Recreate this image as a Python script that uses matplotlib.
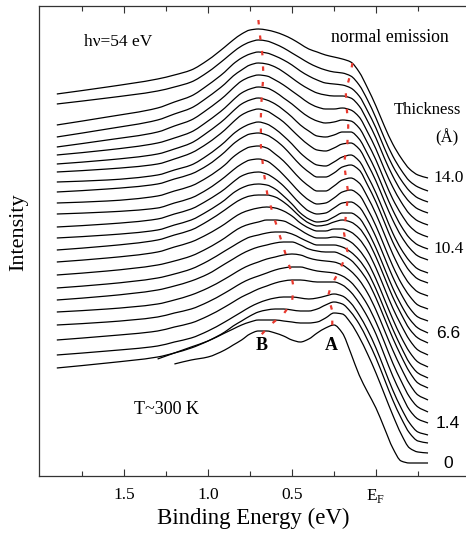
import matplotlib
matplotlib.use("Agg")
import matplotlib.pyplot as plt
import numpy as np
from matplotlib.path import Path
from matplotlib.patches import PathPatch

plt.rcParams['font.family'] = ['Liberation Serif', 'DejaVu Serif']
plt.rcParams['mathtext.fontset'] = 'custom'
plt.rcParams['mathtext.rm'] = 'Liberation Serif'

# binding energy grid (eV)
energy = [1.9, 1.6, 1.3, 1.2, 1.1, 1.0, 0.9, 0.85, 0.8, 0.75, 0.7, 0.65, 0.6, 0.55,
          0.5, 0.45, 0.4, 0.35, 0.3, 0.25, 0.2, 0.15, 0.1, 0.05, 0.0, -0.05, -0.1,
          -0.15, -0.2, -0.25, -0.31]

nan = np.nan
# spectra, top (thickest) to bottom (clean), intensity above each baseline (arb.)
spectra = [
    [84, 91, 99, 103, 108, 118, 131, 138, 144, 148, 149, 148, 146, 143, 139, 134, 129, 126, 123, 121, 119, 116, 106, 90, 72, 52, 34, 20, 9, 3, 0],
    [87, 93, 100, 104, 109, 119, 132, 139, 145, 149, 151, 150, 147, 143, 138, 133, 128, 124, 121, 119, 118, 115, 106, 91, 73, 53, 35, 21, 10, 4, 0],
    [77, 85, 94, 100, 106, 117, 130, 138, 144, 148, 150, 149, 146, 142, 137, 131, 126, 122, 119, 118, 117, 114, 106, 91, 74, 54, 36, 22, 11, 4, 0],
    [76, 84, 93, 99, 105, 116, 129, 137, 143, 148, 150, 149, 146, 141, 135, 129, 124, 120, 118, 117, 117, 115, 107, 92, 75, 55, 37, 22, 11, 4, 0],
    [78, 85, 93, 99, 105, 116, 129, 137, 144, 148, 150, 149, 145, 140, 134, 128, 122, 118, 116, 116, 117, 115, 108, 93, 76, 56, 38, 23, 11, 4, 0],
    [82, 87, 94, 99, 105, 116, 129, 137, 144, 148, 150, 149, 145, 139, 133, 126, 120, 116, 114, 115, 117, 116, 109, 94, 77, 57, 38, 23, 11, 4, 0],
    [85, 89, 95, 100, 106, 117, 130, 138, 145, 149, 151, 149, 145, 139, 132, 124, 118, 113, 112, 114, 117, 117, 110, 95, 78, 58, 39, 23, 11, 4, 0],
    [88, 91, 96, 101, 107, 117, 130, 138, 145, 149, 151, 149, 144, 138, 130, 122, 115, 110, 109, 112, 116, 117, 111, 96, 79, 59, 40, 24, 12, 4, 0],
    [91, 93, 98, 103, 108, 118, 131, 139, 145, 149, 151, 149, 144, 137, 129, 120, 113, 108, 107, 111, 116, 118, 112, 97, 80, 60, 40, 24, 12, 4, 0],
    [91, 94, 99, 104, 109, 118, 131, 139, 145, 149, 150, 148, 143, 136, 127, 118, 111, 106, 106, 110, 116, 118, 113, 98, 81, 61, 41, 25, 12, 4, 0],
    [93, 95, 100, 105, 110, 119, 131, 139, 145, 149, 150, 148, 142, 135, 126, 117, 110, 105, 105, 110, 116, 118, 113, 99, 82, 62, 42, 25, 12, 4, 0],
    [95, 97, 101, 106, 111, 120, 132, 139, 145, 149, 150, 148, 142, 134, 125, 116, 109, 105, 106, 111, 117, 119, 114, 100, 83, 63, 43, 26, 13, 4, 0],
    [94, 97, 102, 107, 112, 121, 132, 139, 145, 148, 149, 147, 142, 135, 126, 117, 110, 107, 108, 113, 118, 119, 114, 101, 84, 64, 44, 27, 13, 4, 0],
    [95, 98, 103, 108, 113, 122, 133, 140, 145, 148, 149, 148, 144, 137, 129, 120, 114, 111, 112, 116, 120, 120, 115, 102, 85, 65, 45, 28, 14, 5, 0],
    [93, 97, 103, 108, 113, 122, 133, 139, 144, 147, 148, 148, 146, 141, 134, 126, 120, 117, 118, 121, 123, 121, 115, 103, 86, 66, 46, 29, 14, 5, 0],
    [93, 97, 103, 108, 113, 121, 131, 137, 142, 145, 147, 148, 147, 144, 139, 132, 127, 124, 124, 126, 126, 123, 116, 104, 87, 67, 47, 30, 15, 5, 0],
    [92, 96, 102, 106, 111, 119, 129, 135, 140, 143, 145, 147, 147, 146, 142, 137, 132, 129, 129, 130, 129, 125, 117, 105, 88, 68, 48, 30, 15, 5, 0],
    [90, 94, 100, 104, 109, 117, 127, 132, 137, 141, 143, 145, 146, 146, 144, 140, 136, 133, 133, 133, 131, 126, 118, 106, 89, 69, 49, 31, 15, 5, 0],
    [88, 92, 98, 102, 107, 114, 124, 129, 134, 138, 141, 143, 145, 146, 146, 143, 139, 137, 136, 136, 133, 128, 119, 107, 90, 70, 50, 32, 16, 5, 0],
    [88, 91, 96, 100, 105, 112, 121, 126, 131, 135, 138, 141, 143, 145, 146, 145, 142, 140, 139, 138, 135, 129, 120, 107, 90, 70, 50, 32, 16, 5, 0],
    [87, 90, 95, 99, 103, 110, 119, 124, 129, 133, 136, 139, 142, 144, 145, 145, 143, 141, 140, 139, 136, 130, 120, 107, 90, 70, 49, 31, 15, 5, 0],
    [83, 87, 92, 96, 100, 107, 116, 121, 126, 130, 134, 137, 140, 142, 143, 143, 142, 141, 141, 141, 138, 131, 120, 106, 89, 68, 47, 29, 13, 4, 0],
    [80, 84, 89, 93, 97, 104, 113, 118, 123, 128, 132, 135, 137, 138, 138, 137, 136, 137, 139, 141, 139, 132, 120, 105, 87, 66, 45, 27, 12, 3, 0],
    [75, 80, 86, 90, 95, 102, 111, 117, 122, 127, 131, 133, 134, 134, 133, 132, 132, 134, 138, 141, 139, 131, 119, 103, 85, 64, 43, 25, 10, 2, 0],
    [nan, nan, 94, 100, 106, 112, 120, 124, 128, 131, 133, 133, 133, 132, 131, 130, 130, 131, 135, 140, 139, 130, 116, 99, 80, 59, 38, 19, 5, 1, 0],
    [nan, nan, nan, 99, 103, 106, 113, 118, 123, 129, 132, 132, 130, 127, 123, 121, 124, 130, 135, 138, 130, 110, 88, 71, 55, 35, 15, 2, 0, 0, 0],
]
# vertical offsets of each spectrum
offsets = [298, 285, 274, 263, 251, 239, 227, 216, 203, 193, 180, 167, 155, 143,
           133, 121, 109, 98, 88, 76, 64, 53, 41, 33, 23, 13]

# thickness labels (index into spectra, text, font)
label_idx = [0, 6, 13, 21, 25]
label_txt = ["14.0", "10.4", "6.6", "1.4", "0"]
label_font = ["serif", "serif", "sans", "sans", "sans"]

# red guide lines for peaks B and A
b_energy = [0.70, 0.69, 0.675, 0.67, 0.68, 0.685, 0.685, 0.67, 0.645, 0.60, 0.555,
            0.51, 0.49, 0.50, 0.55, 0.63, 0.70]
b_int = [456, 440, 420, 400, 380, 360, 330, 306, 280, 255, 231, 207, 188, 174, 162, 151, 138]
a_energy = [0.14, 0.15, 0.18, 0.175, 0.165, 0.17, 0.19, 0.18, 0.165, 0.19, 0.17, 0.21,
            0.27, 0.285, 0.26, 0.26, 0.27]
a_int = [413, 403, 385, 370, 350, 333, 313, 300, 283, 243, 224, 208, 189, 180, 165, 150, 140]

xticks = [1.5, 1.0, 0.5, 0.0]
xtick_labels = ["1.5", "1.0", "0.5", r"E$_{\mathrm{F}}$"]
xminor = [1.75, 1.25, 0.75, 0.25, -0.25]


def smooth_path(x, y):
    # monotone cubic (Fritsch-Carlson) drawn as Bezier segments
    x = np.asarray(x, float)
    y = np.asarray(y, float)
    h = np.diff(x)
    d = np.diff(y) / h
    m = np.zeros_like(y)
    m[0], m[-1] = d[0], d[-1]
    for k in range(1, len(y) - 1):
        if d[k - 1] * d[k] <= 0:
            m[k] = 0
        else:
            w1 = 2 * h[k] + h[k - 1]
            w2 = h[k] + 2 * h[k - 1]
            m[k] = (w1 + w2) / (w1 / d[k - 1] + w2 / d[k])
    verts = [(x[0], y[0])]
    codes = [Path.MOVETO]
    for k in range(len(h)):
        verts += [(x[k] + h[k] / 3, y[k] + m[k] * h[k] / 3),
                  (x[k + 1] - h[k] / 3, y[k + 1] - m[k + 1] * h[k] / 3),
                  (x[k + 1], y[k + 1])]
        codes += [Path.CURVE4] * 3
    return Path(verts, codes)


W, H = 466, 535
fig = plt.figure(figsize=(W / 100, H / 100), dpi=100)
ax = fig.add_axes([39 / W, 1 - 476 / H, (468 - 39) / W, (476 - 6) / H])

e = np.array(energy)
for row, off in zip(spectra, offsets):
    v = np.array(row, dtype=float)
    ok = ~np.isnan(v)
    ax.add_patch(PathPatch(smooth_path(e[ok], v[ok] + off), fill=False,
                           edgecolor='black', lw=0.9, joinstyle='round'))

dots = dict(color='#e8392e', lw=1.6, linestyle=(0, (2.0, 5.0)))
ax.plot(b_energy, b_int, **dots)
ax.plot(a_energy, a_int, **dots)

for i, txt, fnt in zip(label_idx, label_txt, label_font):
    fam = 'Liberation Serif' if fnt == 'serif' else 'Liberation Sans'
    ax.text(-0.43, offsets[i], txt, ha='center', va='center', fontsize=12.5,
            family=fam)

ax.text(0.68, 131, "B", ha='center', va='center', fontsize=13, fontweight='bold')
ax.text(0.268, 131, "A", ha='center', va='center', fontsize=13, fontweight='bold')

fig.text(118 / W, 1 - 42 / H, "h\u03bd=54 eV", ha='center', va='center', fontsize=12.5)
fig.text(390 / W, 1 - 38 / H, "normal emission", ha='center', va='center', fontsize=12.8)
fig.text(427 / W, 1 - 110 / H, "Thickness", ha='center', va='center', fontsize=12)
fig.text(447 / W, 1 - 138 / H, "(\u00c5)", ha='center', va='center', fontsize=12)
fig.text(167 / W, 1 - 410 / H, "T~300 K", ha='center', va='center', fontsize=13)

ax.set_xlim(2.006, -0.548)
ax.set_ylim(0, 470)
ax.set_yticks([])
ax.set_xticks(xticks)
ax.set_xticklabels(xtick_labels, fontsize=12.5)
ax.set_xticks(xminor, minor=True)
ax.tick_params(axis='x', which='both', direction='in', top=True, color='#333333',
               width=0.8, pad=8)
ax.tick_params(axis='x', which='major', length=5)
ax.tick_params(axis='x', which='minor', length=3.5)
for s in ax.spines.values():
    s.set_linewidth(0.9)
    s.set_color('#333333')
ax.spines['right'].set_visible(False)

ax.set_xlabel("Binding Energy (eV)", fontsize=16.5, labelpad=2)
ax.set_ylabel("Intensity", fontsize=16)
ax.yaxis.set_label_coords((28 - 39) / 429, (476 - 232) / 470)

fig.savefig("out.png", dpi=100)
